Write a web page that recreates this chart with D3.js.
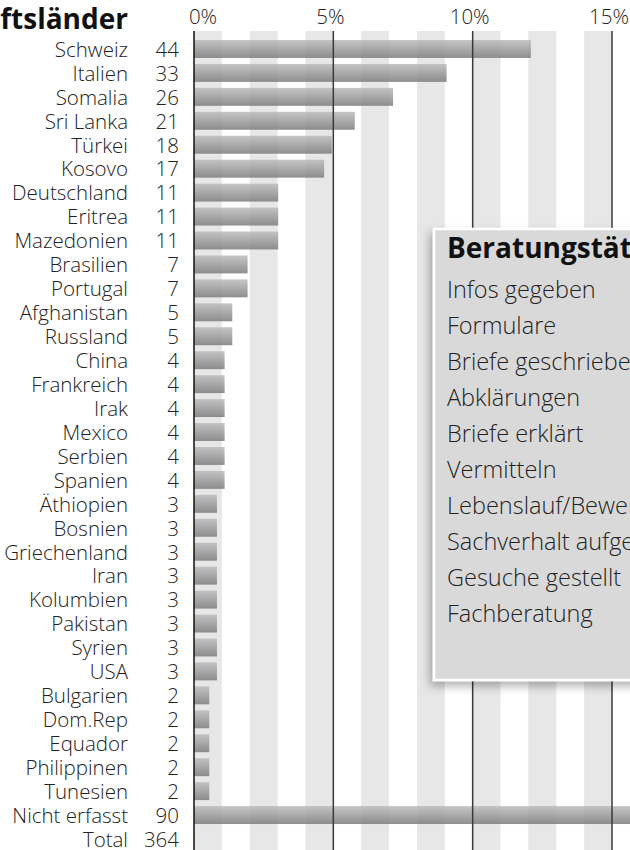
<!DOCTYPE html>
<html>
<head>
<meta charset="utf-8">
<script src="https://cdn.jsdelivr.net/npm/d3@7"></script>
<style>
  body { margin: 0; background: #fff; }
  svg { display: block; font-family: "Open Sans", "Noto Sans", sans-serif; }
  .lbl { font-weight: 300; }
</style>
</head>
<body>
<script>
// Herkunftsländer der Klienten, Anzahl und Anteil in %
var countries = ["Schweiz", "Italien", "Somalia", "Sri Lanka", "Türkei", "Kosovo",
  "Deutschland", "Eritrea", "Mazedonien", "Brasilien", "Portugal", "Afghanistan",
  "Russland", "China", "Frankreich", "Irak", "Mexico", "Serbien", "Spanien",
  "Äthiopien", "Bosnien", "Griechenland", "Iran", "Kolumbien", "Pakistan", "Syrien",
  "USA", "Bulgarien", "Dom.Rep", "Equador", "Philippinen", "Tunesien", "Nicht erfasst"];
var counts = [44, 33, 26, 21, 18, 17, 11, 11, 11, 7, 7, 5, 5, 4, 4, 4, 4, 4, 4,
  3, 3, 3, 3, 3, 3, 3, 3, 2, 2, 2, 2, 2, 90];
var total = 364;
var ticks = [0, 5, 10, 15];

// Kasten rechts
var boxTitle = "Beratungstätigkeiten";
var boxItems = ["Infos gegeben", "Formulare", "Briefe geschrieben", "Abklärungen",
  "Briefe erklärt", "Vermitteln", "Lebenslauf/Bewerbungen", "Sachverhalt aufgenommen",
  "Gesuche gestellt", "Fachberatung"];

var width = 630, height = 850;

var data = countries.map(function(c, i) {
  return {name: c, count: counts[i], pct: counts[i] / total * 100};
});
var rows = countries.concat(["Total"]);

var x = d3.scaleLinear()
    .domain([0, 15])
    .range([194, 612]);

var y = d3.scaleBand()
    .domain(rows)
    .range([37, 37 + rows.length * 23.94])
    .paddingInner(0.25)
    .paddingOuter(0.125);

var svg = d3.select("body").append("svg")
    .attr("width", width)
    .attr("height", height);

var defs = svg.append("defs");
var grad = defs.append("linearGradient")
    .attr("id", "bargrad")
    .attr("x1", 0).attr("y1", 0).attr("x2", 0).attr("y2", 1);
grad.append("stop").attr("offset", "0%").attr("stop-color", "#bcbcbc");
grad.append("stop").attr("offset", "100%").attr("stop-color", "#7c7c7c");

var shadow = defs.append("filter")
    .attr("id", "shadow")
    .attr("x", "-20%").attr("y", "-20%")
    .attr("width", "140%").attr("height", "140%");
shadow.append("feDropShadow")
    .attr("dx", -3).attr("dy", 5)
    .attr("stdDeviation", 5)
    .attr("flood-color", "#000")
    .attr("flood-opacity", 0.3);

// Streifen je 1%
var stripes = d3.range(0, 22, 2);
svg.selectAll(".stripe")
    .data(stripes)
  .enter().append("rect")
    .attr("class", "stripe")
    .attr("x", function(d) { return x(d); })
    .attr("y", 31)
    .attr("width", function(d) { return x(d + 1) - x(d); })
    .attr("height", height - 31)
    .attr("fill", "#e6e7e6");

// Balken
svg.selectAll(".bar")
    .data(data)
  .enter().append("rect")
    .attr("class", "bar")
    .attr("x", x(0))
    .attr("y", function(d) { return y(d.name); })
    .attr("width", function(d) { return x(d.pct) - x(0); })
    .attr("height", y.bandwidth())
    .attr("fill", "url(#bargrad)")
    .attr("fill-opacity", 0.85);

// Gitterlinien
svg.selectAll(".grid")
    .data(ticks.slice(1))
  .enter().append("line")
    .attr("class", "grid")
    .attr("x1", function(d) { return x(d); })
    .attr("x2", function(d) { return x(d); })
    .attr("y1", 31)
    .attr("y2", height)
    .attr("stroke", "#3a3a3a")
    .attr("stroke-width", 1.5);

svg.append("line")
    .attr("x1", x(0)).attr("x2", x(0))
    .attr("y1", 31).attr("y2", height)
    .attr("stroke", "#111")
    .attr("stroke-width", 1.5);

// Achsenbeschriftung oben
svg.selectAll(".tick")
    .data(ticks)
  .enter().append("text")
    .attr("class", "tick lbl")
    .attr("x", function(d) { return x(d) + (d === 0 ? 9 : -3); })
    .attr("y", 24)
    .attr("text-anchor", "middle")
    .attr("font-size", 20.5)
    .attr("fill", "#222")
    .text(function(d) { return d + "%"; });

// Titel
svg.append("text")
    .attr("x", 128)
    .attr("y", 29)
    .attr("text-anchor", "end")
    .attr("font-size", 28)
    .attr("font-weight", "bold")
    .attr("fill", "#111")
    .text("Herkunftsländer");

// Ländernamen und Anzahl
var labels = svg.selectAll(".row")
    .data(data.concat([{name: "Total", count: total}]))
  .enter().append("g")
    .attr("class", "row")
    .attr("transform", function(d) {
      return "translate(0," + (y(d.name) + y.bandwidth() / 2) + ")";
    });

labels.append("text")
    .attr("class", "lbl")
    .attr("x", 128)
    .attr("dy", "0.38em")
    .attr("text-anchor", "end")
    .attr("font-size", 20.5)
    .attr("fill", "#222")
    .text(function(d) { return d.name; });

labels.append("text")
    .attr("class", "lbl")
    .attr("x", 179)
    .attr("dy", "0.38em")
    .attr("text-anchor", "end")
    .attr("font-size", 20.5)
    .attr("fill", "#222")
    .text(function(d) { return d.count; });

// Kasten Beratungstätigkeiten
var box = svg.append("g")
    .attr("transform", "translate(434,229)");

box.append("rect")
    .attr("width", 240)
    .attr("height", 451)
    .attr("fill", "#d9d9da")
    .attr("stroke", "#fff")
    .attr("stroke-width", 2.5)
    .attr("filter", "url(#shadow)");

box.append("text")
    .attr("x", 13)
    .attr("y", 29)
    .attr("font-size", 28)
    .attr("font-weight", "bold")
    .attr("fill", "#111")
    .text(boxTitle);

box.selectAll(".item")
    .data(boxItems)
  .enter().append("text")
    .attr("class", "item lbl")
    .attr("x", 13)
    .attr("y", function(d, i) { return 69 + i * 36; })
    .attr("font-size", 23.5)
    .attr("fill", "#222")
    .text(function(d) { return d; });
</script>
</body>
</html>
